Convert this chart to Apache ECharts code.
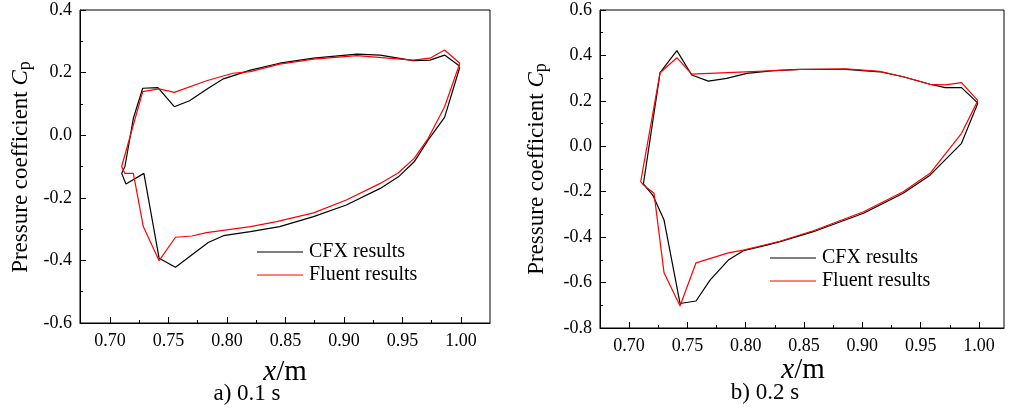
<!DOCTYPE html>
<html><head><meta charset="utf-8">
<script src="https://cdn.jsdelivr.net/npm/echarts@6/dist/echarts.min.js"></script>
<style>html,body{margin:0;padding:0;background:#fff}#c{width:1009px;height:409px}</style>
</head><body><div id="c"></div>
<script>
const xMajor = [0.70, 0.75, 0.80, 0.85, 0.90, 0.95, 1.00];
const xMinor = [0.725, 0.775, 0.825, 0.875, 0.925, 0.975];
const seriesNames = ['CFX results', 'Fluent results'];
const panelTitles = ['a) 0.1 s', 'b) 0.2 s'];

// panel a) 0.1 s  — closed loops [x, Cp]
const cfx01 = [[0.999,0.220],[0.986,0.256],[0.9735,0.240],[0.959,0.238],[0.931,0.256],[0.911,0.259],[0.874,0.246],[0.845,0.230],[0.820,0.208],[0.797,0.180],[0.784,0.150],[0.768,0.110],[0.755,0.091],[0.741,0.152],[0.728,0.150],[0.720,0.054],[0.7128,-0.100],[0.710,-0.122],[0.7137,-0.156],[0.729,-0.122],[0.742,-0.393],[0.756,-0.422],[0.784,-0.343],[0.797,-0.321],[0.820,-0.308],[0.845,-0.292],[0.874,-0.260],[0.902,-0.223],[0.931,-0.170],[0.9465,-0.133],[0.960,-0.085],[0.972,-0.015],[0.986,0.057],[0.999,0.217]];
const fluent01 = [[0.999,0.230],[0.986,0.272],[0.9735,0.246],[0.959,0.240],[0.911,0.254],[0.874,0.243],[0.845,0.227],[0.820,0.203],[0.805,0.198],[0.7826,0.174],[0.755,0.137],[0.742,0.148],[0.728,0.139],[0.710,-0.100],[0.7128,-0.122],[0.720,-0.122],[0.7285,-0.292],[0.742,-0.401],[0.756,-0.326],[0.770,-0.322],[0.7826,-0.311],[0.820,-0.292],[0.8425,-0.276],[0.874,-0.248],[0.902,-0.207],[0.931,-0.154],[0.9465,-0.120],[0.960,-0.074],[0.972,-0.010],[0.986,0.091],[0.999,0.230]];

// panel b) 0.2 s
const cfx02 = [[0.999,0.190],[0.985,0.258],[0.971,0.258],[0.958,0.273],[0.935,0.306],[0.915,0.328],[0.886,0.339],[0.8466,0.339],[0.8237,0.333],[0.801,0.321],[0.7837,0.299],[0.768,0.287],[0.7537,0.314],[0.741,0.421],[0.7266,0.324],[0.7123,-0.166],[0.7109,-0.174],[0.7203,-0.215],[0.730,-0.325],[0.7437,-0.692],[0.7574,-0.681],[0.7694,-0.589],[0.7851,-0.501],[0.798,-0.460],[0.818,-0.435],[0.8294,-0.420],[0.858,-0.376],[0.901,-0.295],[0.935,-0.207],[0.958,-0.127],[0.985,0.013],[0.999,0.190]];
const fluent02 = [[0.999,0.201],[0.985,0.280],[0.971,0.270],[0.958,0.273],[0.935,0.306],[0.915,0.330],[0.886,0.341],[0.8466,0.338],[0.800,0.328],[0.7537,0.318],[0.741,0.390],[0.7266,0.324],[0.710,-0.156],[0.7123,-0.170],[0.7214,-0.207],[0.730,-0.557],[0.7437,-0.703],[0.7574,-0.513],[0.7851,-0.469],[0.798,-0.457],[0.8294,-0.418],[0.858,-0.372],[0.901,-0.288],[0.935,-0.200],[0.958,-0.119],[0.985,0.057],[0.999,0.201]];

const FONT = '"Liberation Serif", "Times New Roman", serif';
const TICK = '#000000';
const chart = echarts.init(document.getElementById('c'), null, {renderer: 'canvas'});

function xAxes(gi, min, max) {
  return [{
    type: 'value', gridIndex: gi, min: min, max: max, position: 'bottom',
    axisLine: {show: true, onZero: false, lineStyle: {color: '#000', width: 1}},
    axisTick: {show: true, inside: true, length: 6, customValues: xMajor, lineStyle: {color: TICK, width: 1}},
    axisLabel: {show: true, customValues: xMajor, margin: 9, color: '#000', fontFamily: FONT, fontSize: 18,
      formatter: v => v.toFixed(2)},
    splitLine: {show: false}
  }, {
    type: 'value', gridIndex: gi, min: min, max: max, position: 'bottom',
    axisLine: {show: false, onZero: false},
    axisTick: {show: true, inside: true, length: 3, customValues: xMinor, lineStyle: {color: TICK, width: 1}},
    axisLabel: {show: false},
    splitLine: {show: false}
  }];
}
function yAxis(gi, min, max) {
  return {
    type: 'value', gridIndex: gi, min: min, max: max, interval: 0.2,
    axisLine: {show: true, onZero: false, lineStyle: {color: '#000', width: 1}},
    axisTick: {show: true, inside: true, length: 6, lineStyle: {color: TICK, width: 1}},
    minorTick: {show: true, splitNumber: 2, length: 3, lineStyle: {color: TICK, width: 1}},
    axisLabel: {margin: 8, color: '#000', fontFamily: FONT, fontSize: 18, formatter: v => v.toFixed(1)},
    splitLine: {show: false}
  };
}
function line(name, data, xi, yi, color) {
  return {type: 'line', name: name, data: data, xAxisIndex: xi, yAxisIndex: yi,
    symbol: 'none', showSymbol: false, smooth: false, animation: false,
    lineStyle: {color: color, width: 1.2}, itemStyle: {color: color}};
}
function yLabel(x, y) {
  return {type: 'text', x: x, y: y, rotation: Math.PI / 2,
    style: {text: '{n|Pressure coefficient }{c|C}{s|p}', align: 'center', verticalAlign: 'middle',
      rich: {
        n: {fontFamily: FONT, fontSize: 23, fill: '#000', lineHeight: 26},
        c: {fontFamily: FONT, fontSize: 23, fontStyle: 'italic', fill: '#000', lineHeight: 26},
        s: {fontFamily: FONT, fontSize: 18, fill: '#000', padding: [8, 0, 0, 0], lineHeight: 18}
      }}};
}
function xName(x, y) {
  return {type: 'text', x: x, y: y,
    style: {text: '{i|x}{n|/m}', align: 'center', verticalAlign: 'middle',
      rich: {i: {fontFamily: FONT, fontSize: 29, fontStyle: 'italic', fill: '#000'},
             n: {fontFamily: FONT, fontSize: 29, fill: '#000'}}}};
}
function caption(x, y, t) {
  return {type: 'text', x: x, y: y,
    style: {text: t, align: 'center', verticalAlign: 'middle', fontFamily: FONT, fontSize: 23, fill: '#000'}};
}
function legend(left, top) {
  return {show: true, orient: 'vertical', left: left, top: top, padding: 0, itemWidth: 46, itemHeight: 1.2, itemGap: 3,
    icon: 'rect', data: seriesNames, selectedMode: false,
    textStyle: {fontFamily: FONT, fontSize: 20, lineHeight: 20, color: '#000', padding: [0, 0, 0, 1]}};
}

chart.setOption({
  animation: false,
  backgroundColor: '#fff',
  grid: [
    {left: 80, top: 10, width: 410, height: 313, show: true, borderColor: '#000', borderWidth: 1, backgroundColor: 'transparent'},
    {left: 600, top: 10, width: 404, height: 318, show: true, borderColor: '#000', borderWidth: 1, backgroundColor: 'transparent'}
  ],
  xAxis: [].concat(xAxes(0, 0.6744, 1.0248), xAxes(1, 0.6751, 1.0214)),
  yAxis: [yAxis(0, -0.6, 0.4), yAxis(1, -0.8, 0.6)],
  legend: [legend(257, 242), legend(770, 248)],
  series: [
    line(seriesNames[0], cfx01, 0, 0, '#000000'),
    line(seriesNames[1], fluent01, 0, 0, '#ff0000'),
    line(seriesNames[0], cfx02, 2, 1, '#000000'),
    line(seriesNames[1], fluent02, 2, 1, '#ff0000')
  ],
  graphic: [
    yLabel(21, 167), yLabel(537, 169),
    xName(285, 372), xName(803, 370),
    caption(247, 394, panelTitles[0]), caption(765, 393, panelTitles[1])
  ]
});
</script></body></html>
